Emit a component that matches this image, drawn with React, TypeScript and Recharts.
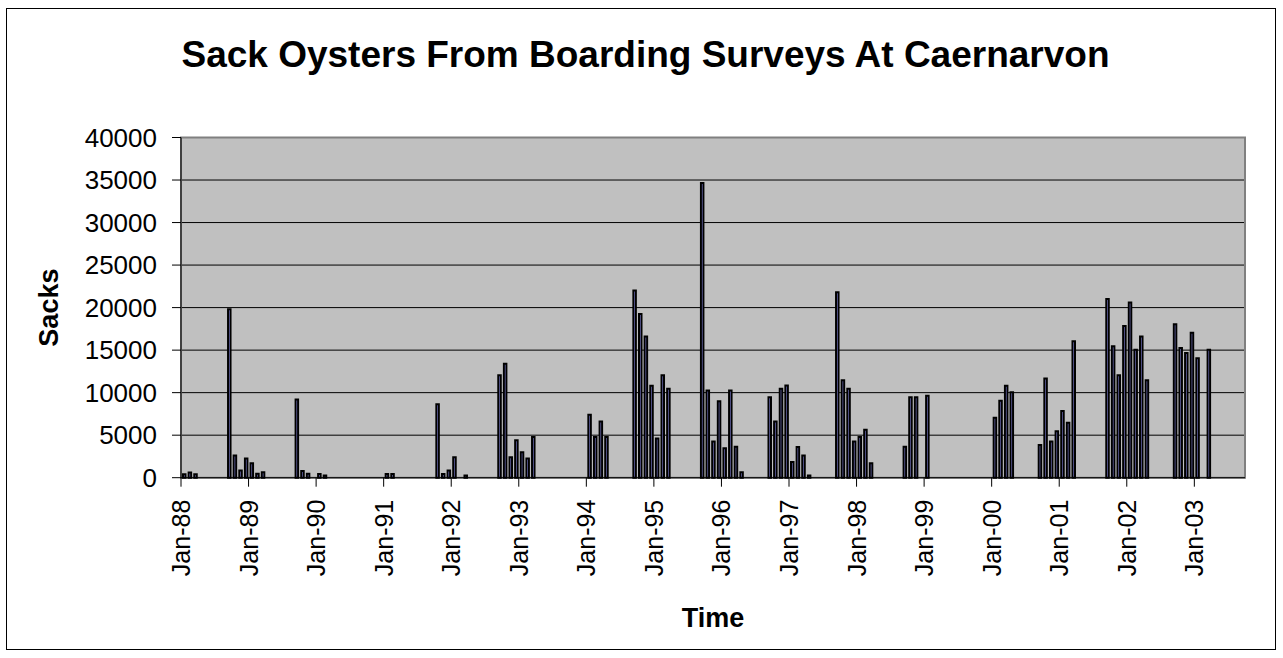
import React from "react";
import { BarChart, Bar, XAxis, YAxis, CartesianGrid, ReferenceArea, Label } from "recharts";

// months with a boarding survey (others had no sacks recorded)
const months = [
  "Jan-88", "Feb-88", "Mar-88", "Sep-88", "Oct-88", "Nov-88", "Dec-88",
  "Jan-89", "Feb-89", "Mar-89", "Sep-89", "Oct-89", "Nov-89",
  "Jan-90", "Feb-90",
  "Jan-91", "Feb-91", "Oct-91", "Nov-91", "Dec-91",
  "Jan-92", "Mar-92", "Sep-92", "Oct-92", "Nov-92", "Dec-92",
  "Jan-93", "Feb-93", "Mar-93",
  "Jan-94", "Feb-94", "Mar-94", "Apr-94", "Sep-94", "Oct-94", "Nov-94", "Dec-94",
  "Jan-95", "Feb-95", "Mar-95", "Sep-95", "Oct-95", "Nov-95", "Dec-95",
  "Jan-96", "Feb-96", "Mar-96", "Apr-96", "Sep-96", "Oct-96", "Nov-96", "Dec-96",
  "Jan-97", "Feb-97", "Mar-97", "Apr-97", "Sep-97", "Oct-97", "Nov-97", "Dec-97",
  "Jan-98", "Feb-98", "Mar-98", "Sep-98", "Oct-98", "Nov-98",
  "Jan-99",
  "Jan-00", "Feb-00", "Mar-00", "Apr-00", "Sep-00", "Oct-00", "Nov-00", "Dec-00",
  "Jan-01", "Feb-01", "Mar-01", "Sep-01", "Oct-01", "Nov-01", "Dec-01",
  "Jan-02", "Feb-02", "Mar-02", "Apr-02", "Sep-02", "Oct-02", "Nov-02", "Dec-02",
  "Jan-03", "Mar-03",
];

const sacks = [
  400, 600, 400, 19800, 2600, 850, 2250,
  1700, 470, 650, 9200, 800, 470,
  430, 250,
  430, 430, 8650, 430, 850,
  2400, 250, 12050, 13400, 2400, 4400,
  3000, 2250, 4800,
  7400, 4800, 6600, 4800, 22000, 19250, 16600, 10800,
  4600, 12050, 10450, 34650, 10250, 4250, 9000,
  3450, 10250, 3650, 650, 9450, 6600, 10450, 10850,
  1850, 3600, 2600, 250, 21800, 11450, 10450, 4250,
  4800, 5650, 1700, 3650, 9450, 9450,
  9650,
  7050, 9050, 10800, 10050, 3850, 11650, 4250, 5450,
  7850, 6450, 16050, 21000, 15450, 12050, 17850,
  20600, 15050, 16600, 11450, 18050, 15250, 14650, 17050,
  14050, 15050,
];

const yearTicks = [
  "Jan-88", "Jan-89", "Jan-90", "Jan-91", "Jan-92", "Jan-93", "Jan-94", "Jan-95",
  "Jan-96", "Jan-97", "Jan-98", "Jan-99", "Jan-00", "Jan-01", "Jan-02", "Jan-03",
];

const sackTicks = [0, 5000, 10000, 15000, 20000, 25000, 30000, 35000, 40000];

const MON = ["Jan", "Feb", "Mar", "Apr", "May", "Jun", "Jul", "Aug", "Sep", "Oct", "Nov", "Dec"];

// months counted from Jan-88
function monthIndex(label: string) {
  const [mon, yy] = label.split("-");
  const yr = Number(yy);
  const year = yr < 50 ? 2000 + yr : 1900 + yr;
  return (year - 1988) * 12 + MON.indexOf(mon);
}

const data = months.map((m, i) => ({ label: m, t: monthIndex(m) + 0.5, sacks: sacks[i] }));
const tickPositions = yearTicks.map(monthIndex);

const FONT = "'Liberation Sans', Arial, sans-serif";

function YearTick(props: any) {
  const { x, y, payload } = props;
  const label = yearTicks[tickPositions.indexOf(payload.value)] ?? "";
  return (
    <text
      x={x}
      y={y}
      transform={`rotate(-90, ${x}, ${y})`}
      textAnchor="end"
      dy="0.36em"
      fontSize={25}
      fill="#000"
    >
      {label}
    </text>
  );
}

export default function App() {
  return (
    <div style={{ position: "absolute", left: 0, top: 0, width: 1283, height: 658, background: "#fff", fontFamily: FONT }}>
      <div
        style={{
          position: "absolute",
          left: 6,
          top: 8,
          width: 1270,
          height: 642,
          border: "1px solid #000",
          boxSizing: "border-box",
        }}
      />
      <div
        style={{
          position: "absolute",
          left: 0,
          top: 35,
          width: 1291,
          textAlign: "center",
          fontSize: 37,
          fontWeight: "bold",
          lineHeight: "40px",
        }}
      >
        Sack Oysters From Boarding Surveys At Caernarvon
      </div>
      <div style={{ position: "absolute", left: 0, top: 0 }}>
        <BarChart width={1283} height={658} data={data} margin={{ top: 137.5, right: 38, bottom: 0, left: 0 }}>
          <CartesianGrid vertical={false} stroke="#000" fill="#C0C0C0" fillOpacity={1} />
          <ReferenceArea x1={0} x2={189} y1={0} y2={40000} fill="none" stroke="#808080" strokeWidth={2} ifOverflow="visible" />
          <XAxis
            type="number"
            dataKey="t"
            domain={[0, 189]}
            ticks={tickPositions}
            interval={0}
            height={180.3}
            tickSize={9}
            tickMargin={13}
            tick={<YearTick />}
            axisLine={{ stroke: "#000" }}
            tickLine={{ stroke: "#000" }}
          >
            <Label
              content={({ viewBox }: any) => (
                <text
                  x={viewBox.x + viewBox.width / 2}
                  y={627}
                  textAnchor="middle"
                  fontSize={27}
                  fontWeight="bold"
                  fill="#000"
                >
                  Time
                </text>
              )}
            />
          </XAxis>
          <YAxis
            type="number"
            domain={[0, 40000]}
            ticks={sackTicks}
            interval={0}
            width={181}
            tickSize={9}
            tickMargin={15}
            tick={{ fontSize: 26, fill: "#000" }}
            axisLine={{ stroke: "#000" }}
            tickLine={{ stroke: "#000" }}
          >
            <Label
              content={({ viewBox }: any) => {
                const cy = viewBox.y + viewBox.height / 2;
                return (
                  <text
                    x={58}
                    y={cy}
                    transform={`rotate(-90, 58, ${cy})`}
                    textAnchor="middle"
                    fontSize={27}
                    fontWeight="bold"
                    fill="#000"
                  >
                    Sacks
                  </text>
                );
              }}
            />
          </YAxis>
          <Bar dataKey="sacks" fill="#9999FF" stroke="#000" strokeWidth={2} barSize={2.5} isAnimationActive={false} />
        </BarChart>
      </div>
    </div>
  );
}
